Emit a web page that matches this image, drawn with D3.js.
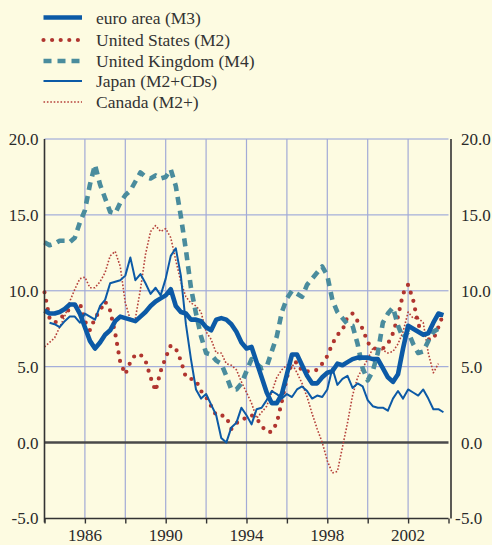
<!DOCTYPE html>
<html>
<head>
<meta charset="utf-8">
<title>Monetary aggregates</title>
<script src="https://d3js.org/d3.v7.min.js"></script>
<style>
  html, body { margin: 0; padding: 0; background: #fdfbe1; }
  svg { display: block; }
</style>
</head>
<body>
<script>
// quarterly growth rates, % y-o-y
const firstYear = 1984
const tickYears = [1986, 1990, 1994, 1998, 2002]
const yTicks = [-5, 0, 5, 10, 15, 20]

const euroArea = [8.7, 8.5, 8.5, 8.6, 8.8, 9.1, 9.1, 8.5, 7.6, 6.7, 6.2, 6.6, 7.1, 7.4, 8.0, 8.3,
  8.2, 8.1, 8.0, 8.3, 8.6, 9.0, 9.3, 9.5, 9.7, 10.1, 9.0, 8.6, 8.5, 8.1, 8.1, 8.0,
  7.6, 7.4, 8.1, 8.2, 8.1, 7.8, 7.3, 6.6, 6.2, 6.3, 5.3, 4.3, 3.3, 2.6, 2.6, 3.2,
  4.5, 5.8, 5.8, 5.1, 4.4, 3.9, 3.9, 4.3, 4.6, 4.7, 5.2, 5.1, 5.3, 5.5, 5.6, 5.6,
  5.6, 5.5, 5.5, 4.9, 4.3, 4.0, 4.5, 6.2, 7.7, 7.5, 7.3, 7.1, 7.2, 7.9, 8.5, 8.4]

const unitedStates = [9.9, 8.2, 7.9, 8.1, 8.5, 8.8, 9.0, 9.2, 8.0, 7.4, 8.2, 8.7, 9.3, 8.7, 7.2, 5.3,
  4.5, 5.3, 5.8, 5.8, 5.4, 4.3, 3.4, 4.7, 5.6, 6.4, 6.2, 5.4, 4.3, 4.2, 4.1, 3.4,
  3.0, 2.4, 1.8, 1.8, 1.7, 0.9, 1.3, 1.4, 1.7, 1.8, 1.6, 1.1, 0.7, 0.7, 1.3, 2.7,
  4.3, 5.2, 5.3, 4.7, 4.7, 4.7, 4.8, 5.2, 5.7, 6.5, 7.1, 7.4, 8.3, 8.5, 8.0, 7.5,
  6.6, 6.2, 6.2, 6.2, 6.5, 7.2, 8.3, 9.8, 10.4, 9.4, 7.8, 7.1, 6.8, 6.8, 7.6, 8.5]

const unitedKingdom = [13.2, 13.0, 13.1, 13.3, 13.3, 13.2, 13.5, 14.5, 15.3, 17.0, 18.3, 17.0, 16.1, 15.2, 15.1, 15.8,
  16.3, 16.6, 17.2, 17.8, 17.5, 17.4, 17.6, 17.4, 17.5, 18.0, 16.9, 14.9, 12.7, 10.2, 8.5, 7.0,
  5.9, 5.8, 5.4, 5.2, 4.4, 3.5, 3.5, 3.9, 4.7, 5.5, 5.2, 4.9, 5.0, 6.0, 7.0, 8.6,
  9.5, 10.0, 9.8, 9.6, 10.4, 10.8, 11.2, 11.6, 11.0, 9.4, 8.6, 8.2, 7.8, 7.7, 6.5, 4.9,
  4.1, 4.7, 5.9, 7.9, 8.5, 8.9, 7.7, 6.9, 7.3, 6.5, 5.9, 6.0, 6.7, 7.3, 7.5, 7.4]

// Japan series starts one quarter later
const japan = [7.9, 7.8, 7.6, 8.0, 8.3, 8.3, 7.9, 8.5, 8.3, 8.1, 9.0, 9.4, 10.5, 10.6, 10.7,
  11.0, 12.2, 10.7, 11.1, 10.5, 9.8, 10.2, 9.7, 10.8, 12.3, 12.8, 11.0, 7.8, 5.5, 3.5, 2.9,
  3.2, 2.5, 1.8, 0.3, 0.0, 1.0, 1.3, 2.3, 1.8, 1.2, 2.2, 2.3, 2.8, 3.4, 3.2, 2.9,
  3.2, 3.0, 3.5, 3.7, 3.4, 2.9, 3.1, 3.0, 3.5, 4.9, 3.8, 4.2, 4.4, 3.6, 3.9, 3.7,
  2.8, 2.4, 2.3, 2.3, 2.1, 2.9, 3.4, 2.9, 3.5, 3.3, 3.1, 3.5, 2.9, 2.2, 2.2, 2.0]

const canada = [6.3, 6.6, 6.9, 7.6, 8.3, 9.3, 10.1, 10.8, 10.9, 10.2, 10.2, 10.6, 11.2, 12.3, 12.6, 11.6,
  9.2, 8.1, 8.2, 10.1, 12.4, 13.9, 14.3, 13.9, 14.1, 13.5, 12.0, 10.6, 9.6, 9.2, 9.0, 8.6,
  7.3, 6.8, 5.9, 5.9, 5.2, 5.1, 4.8, 4.0, 3.3, 2.6, 1.6, 2.0, 2.4, 3.3, 4.3, 4.8,
  5.1, 5.2, 4.6, 3.9, 3.0, 1.9, 0.9, 0.0, -1.2, -2.0, -1.9, -0.3, 1.3, 3.1, 4.3, 4.9,
  5.5, 6.2, 6.2, 6.1, 5.9, 6.0, 6.5, 7.3, 8.6, 8.2, 8.2, 7.9, 5.9, 4.6, 5.2]

const series = [
  { name: "Canada (M2+)", values: canada, start: 1984, color: "#b5403a", width: 1.6, dash: "1.6,1.8", cap: "butt", legendY: 102 },
  { name: "United States (M2)", values: unitedStates, start: 1984, color: "#b0352f", width: 4.2, dash: "0,8.6", cap: "round", legendY: 40 },
  { name: "United Kingdom (M4)", values: unitedKingdom, start: 1984, color: "#4a8c9d", width: 4.6, dash: "8,6", cap: "butt", legendY: 61 },
  { name: "Japan (M2+CDs)", values: japan, start: 1984.25, color: "#0c5aa6", width: 2, dash: null, cap: "butt", legendY: 81 },
  { name: "euro area (M3)", values: euroArea, start: 1984, color: "#0c5aa6", width: 4.6, dash: null, cap: "butt", legendY: 17.5 }
]

const serif = "'Liberation Serif', 'DejaVu Serif', 'Times New Roman', serif"
const W = 492, H = 545
const svg = d3.select("body").append("svg").attr("width", W).attr("height", H)

const x = d3.scaleLinear().domain([firstYear, 2004]).range([44.5, 448.5])
const y = d3.scaleLinear().domain([-5, 20]).range([518.5, 139])

// grid
const grid = svg.append("g")
grid.selectAll(".hg").data([5, 10, 15, 20]).join("line")
  .attr("x1", x(1984)).attr("x2", x(2004))
  .attr("y1", d => y(d)).attr("y2", d => y(d))
  .attr("stroke", "#8f9cd8").attr("stroke-width", 1)
grid.selectAll(".vg").data(d3.range(1986, 2004, 2)).join("line")
  .attr("x1", d => x(d)).attr("x2", d => x(d))
  .attr("y1", y(20)).attr("y2", y(-5))
  .attr("stroke", "#a2aad6").attr("stroke-width", 1.2)

// zero line
svg.append("line")
  .attr("x1", x(1984)).attr("x2", x(2004))
  .attr("y1", y(0)).attr("y2", y(0))
  .attr("stroke", "#4a4a4a").attr("stroke-width", 2.5)

// lines
const line = d3.line()
  .x(d => x(d[0])).y(d => y(d[1]))

svg.append("g").selectAll("path").data(series).join("path")
  .attr("d", s => line(s.values.map((v, i) => [s.start + i * 0.25, v])))
  .attr("fill", "none")
  .attr("stroke", s => s.color)
  .attr("stroke-width", s => s.width)
  .attr("stroke-dasharray", s => s.dash)
  .attr("stroke-linecap", s => s.cap)
  .attr("stroke-linejoin", "round")

// axes
const fmt = d => Math.abs(d).toFixed(1)
const left = svg.append("g").attr("transform", `translate(${x(1984)},0)`)
  .call(d3.axisLeft(y).tickValues(yTicks).tickSize(0).tickPadding(6).tickFormat(d => d.toFixed(1)))
left.select(".domain").attr("stroke", "#333").attr("stroke-width", 1.6)
  .attr("d", `M0,${y(20)}V${y(-5) + 4}`)

const right = svg.append("g").attr("transform", "translate(451,0)")
  .call(d3.axisRight(y).tickValues(yTicks).tickSize(0).tickFormat(fmt))
right.select(".domain").attr("stroke", "#333").attr("stroke-width", 1.6)
  .attr("d", `M0,${y(20)}V${y(-5)}`)
right.selectAll(".tick text").attr("x", 10)
right.selectAll(".tick").filter(d => d < 0).append("text")
  .attr("x", 4).attr("dy", "0.32em").attr("fill", "currentColor").text("-")

const bottom = svg.append("g").attr("transform", `translate(0,${y(-5)})`)
  .call(d3.axisBottom(x).tickValues(d3.range(1984, 2005, 2)).tickSize(5).tickFormat(""))
bottom.select(".domain").attr("stroke", "#333").attr("stroke-width", 1.6)
  .attr("d", `M${x(1984)},0H${x(2004)}`)
bottom.selectAll(".tick line").attr("stroke", "#333").attr("stroke-width", 1.4)

svg.selectAll(".tick text")
  .style("font-family", serif).style("font-size", "17px").style("fill", "#2a2a2a")

svg.append("g").selectAll("text").data(tickYears).join("text")
  .attr("x", d => x(d)).attr("y", 541)
  .attr("text-anchor", "middle")
  .style("font-family", serif).style("font-size", "17px").style("fill", "#2a2a2a")
  .text(d => d)

// legend
const legend = svg.append("g").selectAll("g").data(series).join("g")
  .attr("transform", s => `translate(0,${s.legendY})`)
legend.append("line")
  .attr("x1", 43.5).attr("x2", 82)
  .attr("stroke", s => s.color)
  .attr("stroke-width", s => s.width)
  .attr("stroke-dasharray", s => s.dash)
  .attr("stroke-linecap", s => s.cap)
legend.append("text")
  .attr("x", 96).attr("y", 6)
  .style("font-family", serif).style("font-size", "17.5px").style("fill", "#333")
  .text(s => s.name)
</script>
</body>
</html>
